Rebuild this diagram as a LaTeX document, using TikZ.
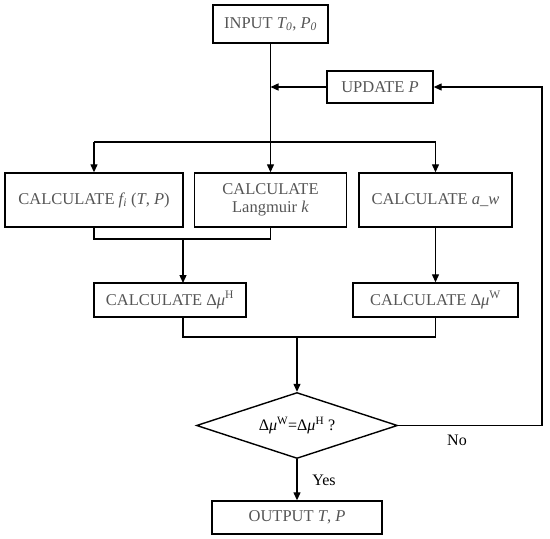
\documentclass[tikz,border=0pt]{standalone}
\usepackage{fontspec}
\setmainfont{Liberation Serif}
\usetikzlibrary{arrows.meta,shapes.geometric}
\definecolor{txtgray}{HTML}{555555}
\begin{document}
\begin{tikzpicture}[x=1pt,y=-1pt,
  box/.style={draw=black,line width=1.4pt,rectangle,inner sep=0pt,align=center,
    text=txtgray,font=\fontsize{16.5}{19}\selectfont},
  dec/.style={draw=black,line width=1.4pt,diamond,inner sep=0pt,aspect=3,
    font=\fontsize{16}{19}\selectfont},
  conn/.style={line width=1.3pt},
  arr/.style={line width=1.3pt,-{Triangle[length=8pt,width=7pt]}},
  lbl/.style={font=\fontsize{16}{19}\selectfont,inner sep=0pt}]
\useasboundingbox (0,0) rectangle (550,539);

\node[box,minimum width=115pt,minimum height=38pt] (input) at (270.5,24) {INPUT \textit{T\textsubscript{0}}, \textit{P\textsubscript{0}}};
\node[box,minimum width=106pt,minimum height=32pt] (update) at (380,87) {UPDATE \textit{P}};
\node[box,minimum width=178pt,minimum height=54pt] (f) at (94,200) {CALCULATE \textit{f\textsubscript{i}} (\textit{T}, \textit{P})};
\node[box,minimum width=152pt,minimum height=54pt] (lang) at (270.5,200) {CALCULATE\\[-1pt]Langmuir \textit{k}};
\node[box,minimum width=153pt,minimum height=54pt] (aw) at (435.5,200) {CALCULATE \textit{a\_w}};
\node[box,minimum width=152pt,minimum height=34pt] (dH) at (170,300) {CALCULATE Δ\textit{μ}\textsuperscript{H}};
\node[box,minimum width=165pt,minimum height=34pt] (dW) at (435.5,300) {CALCULATE Δ\textit{μ}\textsuperscript{W}};
\node[dec,minimum width=201pt,minimum height=66pt] (dec) at (297,425.5) {Δ\textit{μ}\textsuperscript{W}=Δ\textit{μ}\textsuperscript{H} ?};
\node[box,minimum width=170pt,minimum height=33pt] (out) at (297,517.5) {OUTPUT \textit{T}, \textit{P}};

\node[lbl] (yes) at (324,480) {Yes};
\node[lbl] (no) at (457,440) {No};

\coordinate (j0) at (270.5,142);
\coordinate (jl) at (94,142);
\coordinate (jr) at (435.5,142);
\coordinate (m1) at (183,239);
\coordinate (m2) at (297,337);
\coordinate (rr) at (542,87);

% input distribution
\draw[conn] (input.south) -- (j0);
\draw[conn] (jl) -- (jr);
\draw[arr] (jl) -- (f.north);
\draw[arr] (j0) -- (lang.north);
\draw[arr] (jr) -- (aw.north);
% update into main line
\draw[arr] (update.west) -- (270.5,87);
% merge f and lang
\draw[conn] (f.south) -- (94,239) -- (270.5,239) -- (lang.south);
\draw[arr] (m1) -- (183,283);
\draw[arr] (aw.south) -- (dW.north);
% merge dH and dW
\draw[conn] (183,317) -- (183,337) -- (435.5,337) -- (dW.south);
\draw[arr] (m2) -- (dec.north);
% decision
\draw[arr] (dec.south) -- (out.north);
\draw[arr] (dec.east) -- (542,425.5) -- (rr) -- (update.east);
\end{tikzpicture}
\end{document}
